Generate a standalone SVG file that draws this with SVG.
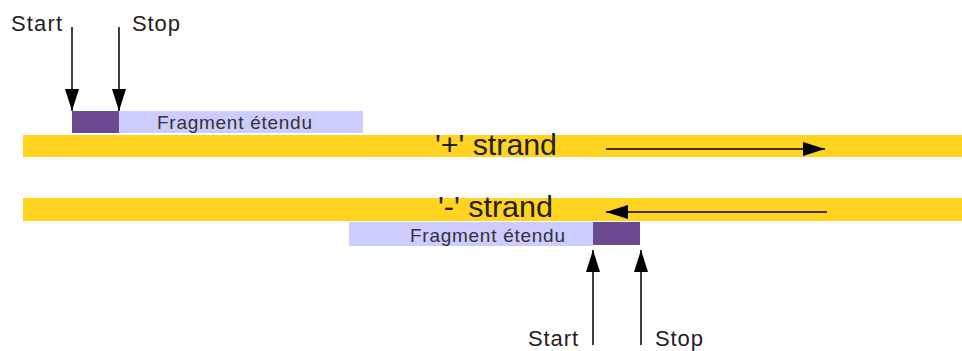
<svg xmlns="http://www.w3.org/2000/svg" width="962" height="351" viewBox="0 0 962 351">
<defs>
<style>
.strand{fill:#ffd320}
.frag{fill:#ccccff}
.core{fill:#6b4a91}
.lbl{font-family:"Liberation Sans",Arial,sans-serif;font-size:22px;fill:#222}
.flbl{font-family:"Liberation Sans",Arial,sans-serif;font-size:19px;fill:#333}
.slbl{font-family:"Liberation Sans",Arial,sans-serif;font-size:30px;fill:#222}
.ln{stroke:#000;stroke-width:1.5;fill:none}
</style>
<marker id="ah" markerWidth="22" markerHeight="14" viewBox="0 0 22 14" refX="22" refY="7" orient="auto" markerUnits="userSpaceOnUse">
<path d="M0,0 L22,7 L0,14 Z" fill="#000"/>
</marker>
</defs>
<rect width="962" height="351" fill="#fff"/>
<g id="plus-strand">
<rect class="strand" x="23" y="135" width="939" height="22"/>
<text class="slbl" x="435" y="155" textLength="122" lengthAdjust="spacingAndGlyphs">'+' strand</text>
</g>
<g id="minus-strand">
<rect class="strand" x="23" y="198" width="939" height="23"/>
<text class="slbl" x="438" y="217" textLength="115" lengthAdjust="spacingAndGlyphs">'-' strand</text>
</g>
<g id="top-fragment">
<rect class="frag" x="119" y="111" width="244" height="22"/>
<rect class="core" x="72" y="111" width="47" height="22"/>
<text class="flbl" x="157" y="129" textLength="155" lengthAdjust="spacing">Fragment étendu</text>
</g>
<g id="bottom-fragment">
<rect class="frag" x="349" y="222" width="244" height="24"/>
<rect class="core" x="593" y="222" width="47" height="23"/>
<text class="flbl" x="410" y="242" textLength="155" lengthAdjust="spacing">Fragment étendu</text>
</g>
<g id="top-start-label"><text class="lbl" x="11" y="31" textLength="51" lengthAdjust="spacing">Start</text></g>
<g id="top-stop-label"><text class="lbl" x="132" y="31" textLength="48" lengthAdjust="spacing">Stop</text></g>
<g id="bottom-start-label"><text class="lbl" x="528" y="346" textLength="50" lengthAdjust="spacing">Start</text></g>
<g id="bottom-stop-label"><text class="lbl" x="655" y="346" textLength="48" lengthAdjust="spacing">Stop</text></g>
<g id="connectors">
<line class="ln" x1="72" y1="27" x2="72" y2="111" marker-end="url(#ah)"/>
<line class="ln" x1="119" y1="27" x2="119" y2="111" marker-end="url(#ah)"/>
<line class="ln" x1="593" y1="345" x2="593" y2="250" marker-end="url(#ah)"/>
<line class="ln" x1="641" y1="345" x2="641" y2="250" marker-end="url(#ah)"/>
<line class="ln" x1="606" y1="149" x2="825" y2="149" marker-end="url(#ah)"/>
<line class="ln" x1="827" y1="212" x2="606" y2="212" marker-end="url(#ah)"/>
</g>
</svg>
